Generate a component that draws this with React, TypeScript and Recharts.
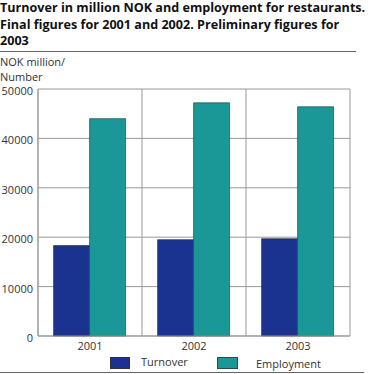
import React from "react";
import { BarChart, Bar, XAxis, YAxis, CartesianGrid } from "recharts";

const years = ["2001", "2002", "2003"];
const turnover = [18300, 19500, 19700];
const employment = [44000, 47200, 46400];
const yTicks = [0, 10000, 20000, 30000, 40000, 50000];
const seriesNames = ["Turnover", "Employment"];
const titleLines = [
  "Turnover in million NOK and employment for restaurants.",
  "Final figures for 2001 and 2002. Preliminary figures for",
  "2003",
];
const yLabel = ["NOK million/", "Number"];

const COLORS = ["#1a3390", "#1a9898"];
const FONT = "'Open Sans', sans-serif";

const data = years.map((y, i) => ({ year: y, turnover: turnover[i], employment: employment[i] }));

export default function App() {
  return (
    <div style={{ position: "absolute", left: 0, top: 0, width: 372, height: 374, background: "#fff", fontFamily: FONT, overflow: "hidden" }}>
      <div style={{ position: "absolute", left: 0, top: 0, fontWeight: 700, fontSize: 12.6, lineHeight: "16.5px", color: "#111", whiteSpace: "nowrap" }}>
        {titleLines.map((t, i) => (
          <div key={i}>{t}</div>
        ))}
      </div>
      <div style={{ position: "absolute", left: 0, top: 51, width: 356, height: 1, background: "#666" }} />
      <div style={{ position: "absolute", left: 0, top: 55, fontSize: 11, lineHeight: "14.5px", color: "#333" }}>
        {yLabel.map((t, i) => (
          <div key={i}>{t}</div>
        ))}
      </div>
      <div style={{ position: "absolute", left: 0, top: 0 }}>
        <BarChart
          width={372}
          height={374}
          data={data}
          margin={{ top: 89, right: 22, bottom: 18, left: 0 }}
          barCategoryGap="15%"
          barGap={0}
        >
          <CartesianGrid
            stroke="#999"
            strokeWidth={1}
            verticalCoordinatesGenerator={({ offset }: any) => [
              offset.left,
              offset.left + offset.width / 3,
              offset.left + (2 * offset.width) / 3,
              offset.left + offset.width,
            ]}
          />
          <XAxis
            dataKey="year"
            tickLine={false}
            tickSize={0}
            axisLine={{ stroke: "#999" }}
            height={20}
            tick={{ fontSize: 11, fill: "#333", fontFamily: FONT }}
            tickMargin={6}
          />
          <YAxis
            domain={[0, 50000]}
            ticks={yTicks}
            width={38}
            tickLine={false}
            tickSize={0}
            axisLine={{ stroke: "#999" }}
            tick={{ fontSize: 11, fill: "#333", fontFamily: FONT, dy: 2 }}
            tickMargin={5}
            interval={0}
          />
          <Bar dataKey="turnover" name={seriesNames[0]} fill={COLORS[0]} stroke="#333" strokeWidth={0.7} isAnimationActive={false} />
          <Bar dataKey="employment" name={seriesNames[1]} fill={COLORS[1]} stroke="#1f4f4f" strokeWidth={0.7} isAnimationActive={false} />
        </BarChart>
      </div>
      <div style={{ position: "absolute", left: 110, top: 357, width: 20, height: 12, background: COLORS[0], boxSizing: "border-box", border: "1px solid #333" }} />
      <div style={{ position: "absolute", left: 141, top: 354, fontSize: 11, color: "#333" }}>{seriesNames[0]}</div>
      <div style={{ position: "absolute", left: 217, top: 357, width: 21, height: 12, background: COLORS[1], boxSizing: "border-box", border: "1px solid #1f4f4f" }} />
      <div style={{ position: "absolute", left: 256, top: 356, fontSize: 11, color: "#333" }}>{seriesNames[1]}</div>
      <div style={{ position: "absolute", left: 0, top: 372, width: 364, height: 1, background: "#666" }} />
    </div>
  );
}
